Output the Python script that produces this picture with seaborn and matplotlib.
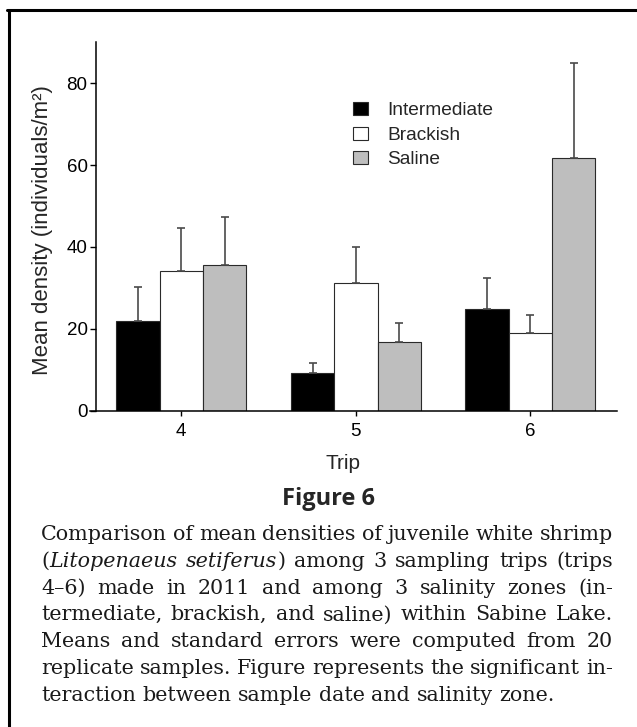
import numpy as np
import pandas as pd
import matplotlib
matplotlib.use('Agg')
import matplotlib.pyplot as plt
import seaborn as sns
from matplotlib.patches import Patch
from matplotlib.lines import Line2D

# ---------------- data ----------------
trips = ['4', '5', '6']
zones = ['Intermediate', 'Brackish', 'Saline']
mean_intermediate = [21.8, 9.1, 24.8]
mean_brackish = [34.2, 31.3, 18.9]
mean_saline = [35.5, 16.9, 61.7]
se_intermediate = [8.4, 2.5, 7.6]
se_brackish = [10.4, 8.7, 4.6]
se_saline = [11.9, 4.5, 23.2]
yticks = [0, 20, 40, 60, 80]

zone_colors = ['#000000', '#ffffff', '#bebebe']

caption_lines = [
    "Comparison of mean densities of juvenile white shrimp",
    "(*Litopenaeus* *setiferus*) among 3 sampling trips (trips",
    "4\u20136) made in 2011 and among 3 salinity zones (in-",
    "termediate, brackish, and saline) within Sabine Lake.",
    "Means and standard errors were computed from 20",
    "replicate samples. Figure represents the significant in-",
    "teraction between sample date and salinity zone.",
]

means = {'Intermediate': mean_intermediate, 'Brackish': mean_brackish, 'Saline': mean_saline}
ses = {'Intermediate': se_intermediate, 'Brackish': se_brackish, 'Saline': se_saline}
df = pd.DataFrame([{'trip': t, 'zone': z, 'mean': means[z][i]}
                   for z in zones for i, t in enumerate(trips)])

# ---------------- figure ----------------
sns.set_theme(style='white')
plt.rcParams['font.family'] = ['Liberation Sans', 'DejaVu Sans']

W, H = 637, 727
fig = plt.figure(figsize=(W / 100, H / 100), dpi=100)
fig.patch.set_facecolor('white')


def fx(px):
    return px / W


def fy(py):
    return 1 - py / H


ax = fig.add_axes([fx(90), fy(410.7), (616.7 - 90) / W, (410.7 - 42.3) / H])

sns.barplot(data=df, x='trip', y='mean', hue='zone', order=trips, hue_order=zones,
            palette=zone_colors, width=0.745, errorbar=None, edgecolor='#2a2a2a',
            linewidth=0.8, saturation=1, legend=False, ax=ax)

for z, cont in zip(zones, ax.containers):
    for i, bar in enumerate(cont.patches):
        xc = bar.get_x() + bar.get_width() / 2
        h = bar.get_height()
        ax.errorbar(xc, h, yerr=[[0], [ses[z][i]]], color='#4a4a4a', lw=1.2,
                    capsize=2.9, capthick=1.2, zorder=1)

ax.set_xlim(-0.523, 2.494)
ax.set_ylim(0, 90)
ax.spines['left'].set_position(('data', -0.487))
for s in ['top', 'right']:
    ax.spines[s].set_visible(False)
for s in ['left', 'bottom']:
    ax.spines[s].set_linewidth(1.1)
    ax.spines[s].set_color('black')
ax.set_yticks(yticks)
ax.tick_params(axis='y', left=True, direction='out', length=4.3, width=1.0, pad=2,
               labelsize=13.5, color='black', labelcolor='black')
ax.tick_params(axis='x', bottom=True, direction='out', length=3.6, width=1.0, pad=5,
               labelsize=13.5, color='black', labelcolor='black')
ax.set_xlabel('')
ax.set_ylabel('')
ax.grid(False)

fig.text(fx(343), fy(469), 'Trip', ha='center', va='baseline', fontsize=15)
fig.text(fx(42.7), fy(230), 'Mean density (individuals/m\u00b2)', rotation=90,
         ha='center', va='center', fontsize=16)

handles = [Patch(facecolor=cont.patches[0].get_facecolor(), edgecolor='#2a2a2a',
                 linewidth=0.8, label=z) for z, cont in zip(zones, ax.containers)]
ax.legend(handles=handles, loc='upper left', bbox_to_anchor=(fx(352.7), fy(102)),
          bbox_transform=fig.transFigure, frameon=False, fontsize=13.8,
          handlelength=0.82, handleheight=0.7, handletextpad=0.98, labelspacing=0.37,
          borderpad=0, borderaxespad=0)

fig.text(fx(328), fy(505), 'Figure 6', ha='center', va='baseline', fontsize=17,
         fontweight='bold', family=['Open Sans', 'DejaVu Sans'])

# ---------------- justified caption ----------------
renderer = fig.canvas.get_renderer()
cap_kw = dict(fontsize=14.9, family=['DejaVu Serif'])
cap_left, cap_right = 41, 613
base0, step = 540, 26.8


def seg_width(s, italic):
    t = fig.text(0, 0, s, style='italic' if italic else 'normal', **cap_kw)
    w = t.get_window_extent(renderer).width
    t.remove()
    return w


def parse_word(w):
    parts = w.split('*')
    return [(p, k % 2 == 1) for k, p in enumerate(parts) if p]


space_w = seg_width('a a', False) - seg_width('aa', False)

for li, line in enumerate(caption_lines):
    words = [parse_word(w) for w in line.split(' ')]
    widths = [sum(seg_width(s, it) for s, it in wd) for wd in words]
    total = sum(widths)
    if li == len(caption_lines) - 1 or len(words) == 1:
        gap = space_w
    else:
        gap = (cap_right - cap_left - total) / (len(words) - 1)
    x = cap_left
    yb = base0 + li * step
    for wd, ww in zip(words, widths):
        xx = x
        for s, it in wd:
            fig.text(fx(xx), fy(yb), s, ha='left', va='baseline',
                     style='italic' if it else 'normal', color='#1a1a1a', **cap_kw)
            xx += seg_width(s, it)
        x += ww + gap

# ---------------- frame ----------------
fig.add_artist(Line2D([fx(8.5), fx(8.5)], [fy(9.5), 0], transform=fig.transFigure,
                      color='black', lw=2.2))
fig.add_artist(Line2D([fx(7.4), 1], [fy(9.5), fy(9.5)], transform=fig.transFigure,
                      color='black', lw=2.2))

fig.savefig('out.png', dpi=100)
